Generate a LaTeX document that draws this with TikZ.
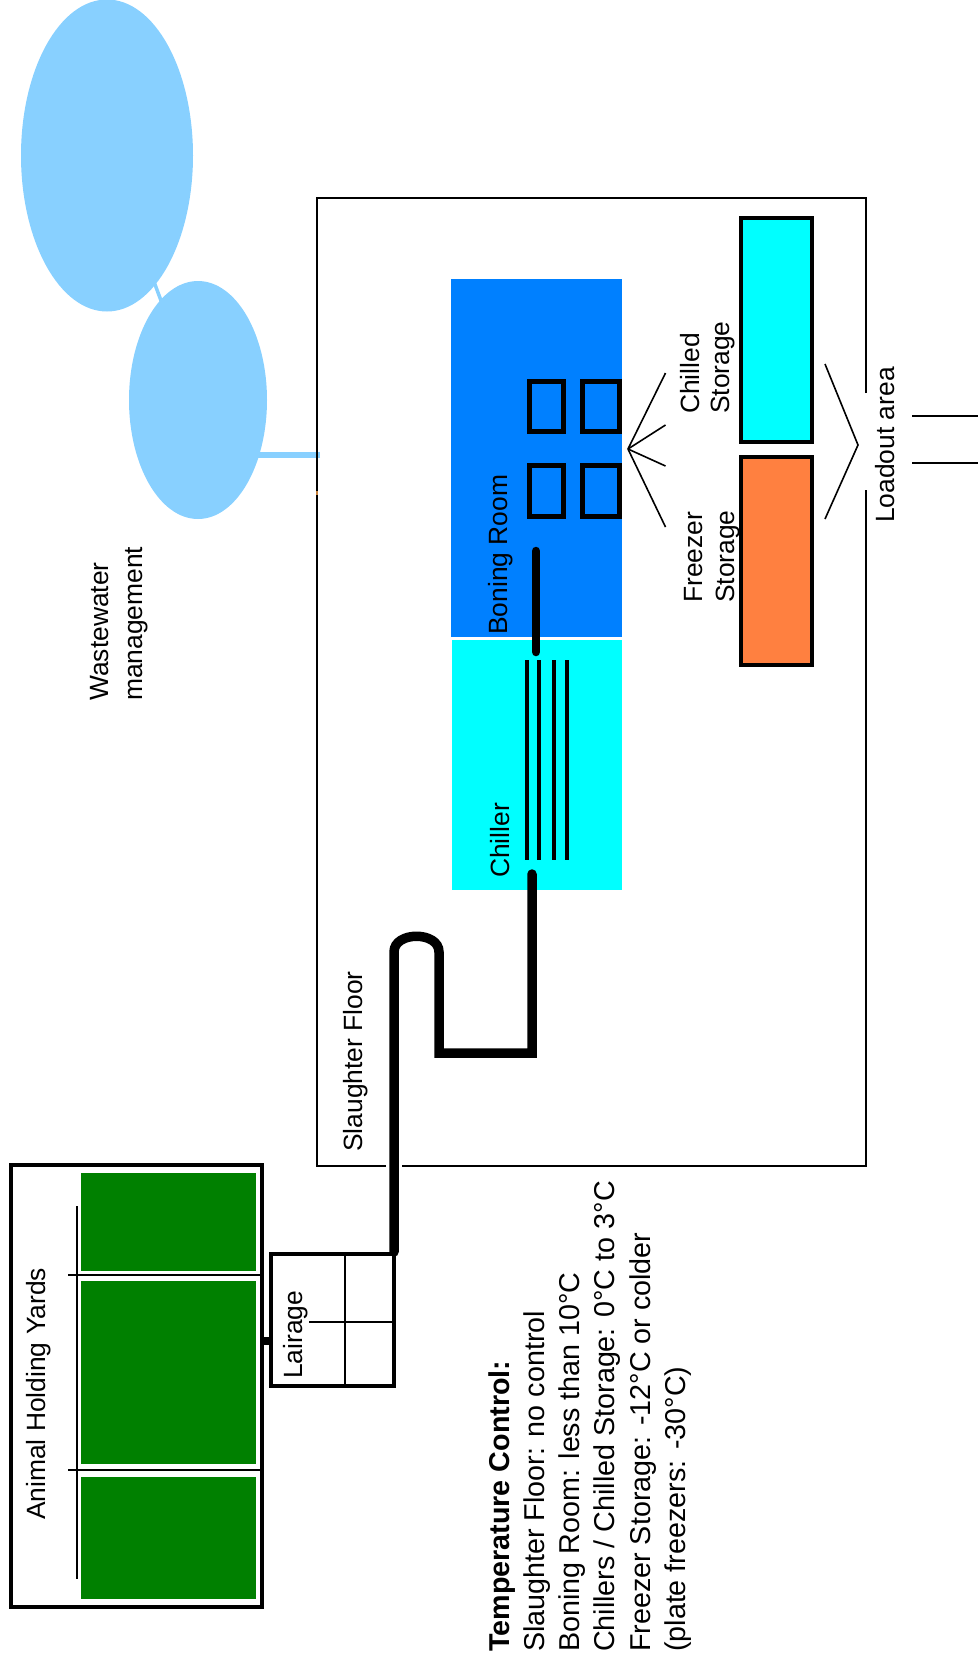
\documentclass[tikz,border=0pt]{standalone}
\usepackage{fontspec}
\setmainfont{Liberation Sans}
\usepackage{xcolor}
\usetikzlibrary{shapes.geometric}
\definecolor{yardgreen}{RGB}{0,128,0}
\definecolor{roomblue}{RGB}{0,128,255}
\definecolor{coolcyan}{RGB}{0,255,255}
\definecolor{freezeorange}{RGB}{255,128,64}
\definecolor{pondblue}{RGB}{136,208,255}
\definecolor{tickorange}{RGB}{200,130,60}

\begin{document}
\begin{tikzpicture}[
    x=1pt, y=-1pt,
    roombox/.style={rectangle, inner sep=0pt, outer sep=0pt},
    pen/.style={rectangle, draw=black, line width=4pt, inner sep=0pt, outer sep=0pt},
    wall/.style={line width=2pt},
    fence/.style={line width=1.6pt},
    conveyor/.style={line width=9.5pt},
    rail/.style={line width=4.6pt},
    pipe/.style={draw=pondblue, line width=6pt},
    pond/.style={ellipse, fill=pondblue, inner sep=0pt, outer sep=0pt},
    every node/.style={font=\fontsize{26.4}{31}\selectfont},
    lbl/.style={rotate=90, anchor=base west, inner sep=0pt, align=left}
]
\useasboundingbox (0,0) rectangle (978,1668);
%% Wastewater ponds
\node[pond, minimum width=172pt, minimum height=312pt] (pondA) at (107,155.5) {};
\node[pond, minimum width=138pt, minimum height=238pt] (pondB) at (198,400) {};
\draw[pipe, line width=3.5pt] (pondA.center) -- (pondB.center);
\coordinate (drain) at (320,455);
\draw[pipe] (drain) -- (pondB.center |- drain);
\node[lbl] (wastelbl) at (108,701) {Wastewater};
\node[lbl] (mgmtlbl) at (142,701) {management};
%% Animal holding yards
\node[pen, minimum width=251pt, minimum height=441.5pt] (yards) at (136,1386.2) {};
\node[roombox, fill=yardgreen, minimum width=175pt, minimum height=98pt] (yardA) at (168.5,1222) {};
\node[roombox, fill=yardgreen, minimum width=175pt, minimum height=183pt] (yardB) at (168.5,1372.5) {};
\node[roombox, fill=yardgreen, minimum width=175pt, minimum height=122pt] (yardC) at (168.5,1538) {};
\coordinate (fencetop) at (77,1206);
\coordinate (fencebot) at (77,1579);
\draw[fence] (fencetop) -- (fencebot);
\foreach \ypos in {1275,1470} {
    \coordinate (post) at (68,\ypos);
    \draw[fence] (post) -- (yards.east |- post);
}
\node[lbl] at (45,1520) (yardlbl) {Animal Holding Yards};
%% Lairage
\node[pen, minimum width=123pt, minimum height=132pt] (lairage) at (332.5,1320) {};
\coordinate (laircross) at (345,1322);
\coordinate (lairstub) at (309,1322);
\draw[fence] (laircross |- lairage.north) -- (laircross |- lairage.south);
\draw[fence] (lairstub) -- (lairage.east |- lairstub);
\coordinate (gate) at (266,1341);
\draw[line width=8pt] (yards.east |- gate) -- (lairage.west |- gate);
\node[lbl] (lairlbl) at (302,1379) {Lairage};
%% Slaughter floor, gaps left for door and conveyor
\coordinate (floorNW) at (317,198);
\coordinate (floorNE) at (866,198);
\coordinate (floorSW) at (317,1166);
\coordinate (floorSE) at (866,1166);
\draw[wall] (866,393) -- (floorNE) -- (floorNW) -- (floorSW) -- (386,1166);
\draw[wall] (402,1166) -- (floorSE) -- (866,490);
\draw[tickorange, line width=2pt] (317,491) -- (317,495);
\node[lbl] (floorlbl) at (362,1152) {Slaughter Floor};
%% Rooms
\node[roombox, fill=roomblue, minimum width=171pt, minimum height=358pt] (boning) at (536.5,458) {};
\node[roombox, fill=coolcyan, minimum width=170pt, minimum height=250pt] (chiller) at (537,765) {};
\node[lbl] (boninglbl) at (507,635) {Boning Room};
\node[lbl] (chillerlbl) at (509,878) {Chiller};
\foreach \i/\xpos/\ypos/\bw/\bh in {1/529.5/381.5/34/50, 2/582.5/381.5/37/50, 3/529.5/465.5/34/51, 4/582.5/465.5/37/51} {
    \node[rectangle, draw=black, line width=5pt, anchor=north west, inner sep=0pt, outer sep=0pt,
          minimum width=\bw pt, minimum height=\bh pt] (bench\i) at (\xpos,\ypos) {};
}
\foreach \xpos in {527,539,554,567} {
    \draw[rail] (\xpos,660) -- (\xpos,860);
}
%% Carcass line
\coordinate (lineA) at (394,1252);
\coordinate (lineB) at (394,952);
\coordinate (lineC) at (439,952);
\coordinate (lineD) at (439,1053);
\coordinate (lineE) at (532,1053);
\coordinate (lineF) at (532,874);
\draw[conveyor, line join=miter, line cap=round] (lineA) -- (lineB) .. controls (394,931) and (439,931) .. (lineC) -- (lineD) -- (lineE) -- (lineF);
\coordinate (cutA) at (536,551);
\coordinate (cutB) at (536,652);
\draw[conveyor, line width=8.5pt, line cap=round] (cutA) -- (cutB);
%% Storage
\node[pen, fill=coolcyan, minimum width=71pt, minimum height=224pt] (chilled) at (776.5,330) {};
\node[pen, fill=freezeorange, minimum width=71pt, minimum height=208pt] (freezer) at (776.5,561) {};
\coordinate (fan) at (628,449);
\foreach \xend/\yend in {665.5/373, 665.5/425, 665.5/466, 665.5/527} {
    \draw[fence] (fan) -- (\xend,\yend);
}
\node[lbl] (chilledlbl) at (699,414) {Chilled};
\node[lbl] (chilledlblb) at (729,414) {Storage};
\node[lbl] (freezerlbl) at (702,603) {Freezer};
\node[lbl] (freezerlblb) at (734,603) {Storage};
%% Loadout
\coordinate (loadtip) at (858,445);
\draw[fence] (825,364) -- (loadtip) -- (825,519);
\node[lbl] (loadlbl) at (894,523) {Loadout area};
\foreach \ypos in {416,463} {
    \draw[wall] (912,\ypos) -- (978,\ypos);
}
%% Temperature notes
\node[rotate=90, anchor=north west, inner sep=0pt, align=left,
      font=\fontsize{28.7}{35.3}\selectfont] (notes) at (488,1652)
    {\textbf{Temperature Control:}\\
     Slaughter Floor: no control\\
     Boning Room: less than 10°C\\
     Chillers / Chilled Storage: 0°C to 3°C\\
     Freezer Storage: -12°C or colder\\
     (plate freezers: -30°C)};
\end{tikzpicture}
\end{document}
